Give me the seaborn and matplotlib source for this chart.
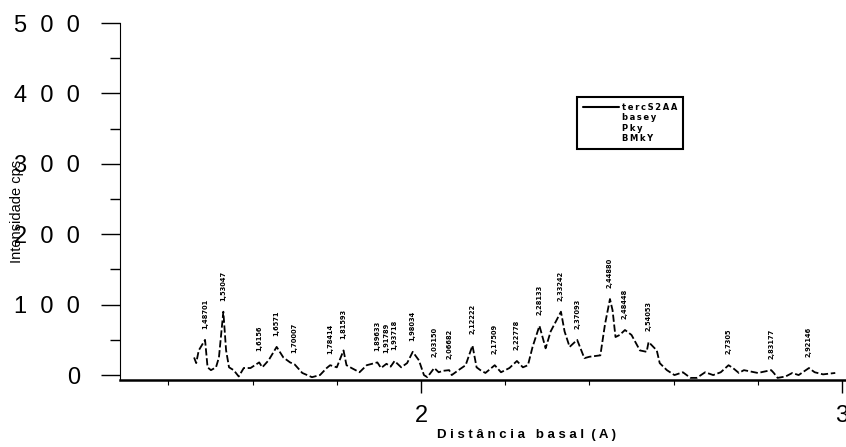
import numpy as np
import pandas as pd
import matplotlib
matplotlib.use("Agg")
import matplotlib.pyplot as plt
import seaborn as sns
from matplotlib.lines import Line2D
from matplotlib.ticker import FixedLocator

# Diffractogram trace between the labelled reflections (d in Å, intensity in cps)
trace_x = [1.461, 1.466, 1.472, 1.493, 1.501, 1.513, 1.520, 1.537, 1.544, 1.555,
           1.567, 1.579, 1.595, 1.623, 1.638, 1.673, 1.689, 1.718, 1.741, 1.760,
           1.776, 1.800, 1.823, 1.835, 1.854, 1.871, 1.905, 1.928, 1.953, 1.967,
           1.995, 2.007, 2.015, 2.042, 2.052, 2.073, 2.089, 2.106, 2.132, 2.141,
           2.153, 2.190, 2.210, 2.242, 2.254, 2.265, 2.296, 2.308, 2.341, 2.353,
           2.388, 2.400, 2.426, 2.437, 2.455, 2.462, 2.472, 2.500, 2.520, 2.536,
           2.560, 2.567, 2.584, 2.602, 2.622, 2.640, 2.655, 2.675, 2.694, 2.712,
           2.741, 2.755, 2.767, 2.800, 2.838, 2.847, 2.866, 2.882, 2.897, 2.935,
           2.955, 2.984]
trace_y = [25, 17, 35, 11, 7, 11, 25, 35, 11, 7,
           -2, 10, 10, 11, 21, 25, 18, 3, -3, 0,
           10, 11, 14, 10, 4, 14, 10, 12, 11, 17,
           21, 0, -3, 4, 6, 0, 7, 14, 11, 7,
           3, 4, 10, 11, 14, 40, 38, 62, 62, 40,
           24, 26, 28, 72, 92, 54, 57, 57, 35, 33,
           35, 17, 7, 0, 4, -4, -4, 4, 0, 4,
           10, 3, 7, 3, 3, -4, -2, 3, 0, 4,
           1, 3]

# Labelled reflections
peak_pos = [1.48701, 1.53047, 1.6156, 1.6571, 1.70007, 1.78414, 1.81593, 1.89633,
            1.91789, 1.93718, 1.98034, 2.03150, 2.06682, 2.12222, 2.17509, 2.22778,
            2.28133, 2.33242, 2.37093, 2.44880, 2.48448, 2.54053, 2.7305, 2.83177,
            2.92146]
peak_int = [50, 90, 18, 40, 15, 14, 35, 18, 16, 20, 33, 10, 7, 42, 14, 20,
            70, 90, 50, 108, 64, 47, 14, 7, 10]
peak_labels = ["1,48701", "1,53047", "1,6156", "1,6571", "1,70007", "1,78414",
               "1,81593", "1,89633", "1,91789", "1,93718", "1,98034", "2,03150",
               "2,06682", "2,12222", "2,17509", "2,22778", "2,28133", "2,33242",
               "2,37093", "2,44880", "2,48448", "2,54053", "2,7305", "2,83177",
               "2,92146"]

y_ticks = [0, 100, 200, 300, 400, 500]
y_tick_labels = ["0", "1  0  0", "2  0  0", "3  0  0", "4  0  0", "5  0  0"]
x_ticks = [2, 3]
x_tick_labels = ["2", "3"]
legend_labels = ["tercS2AA", "basey", "Pky", "BMkY"]

sns.set_style("white")
plt.rcParams["font.family"] = ["Liberation Sans", "DejaVu Sans"]
plt.rcParams["text.color"] = "black"
plt.rcParams["axes.labelcolor"] = "black"
plt.rcParams["xtick.color"] = "black"
plt.rcParams["ytick.color"] = "black"

fig = plt.figure(figsize=(8.46, 4.47), dpi=100)
ax = fig.add_axes([120 / 846, 67 / 447, 726 / 846, 357 / 447])

df = pd.DataFrame({
    "d": np.concatenate([trace_x, peak_pos]),
    "I": np.concatenate([trace_y, peak_int]),
}).sort_values("d")

sns.lineplot(data=df, x="d", y="I", ax=ax, color="black", linewidth=1.3,
             linestyle=(0, (4, 1.5)), sort=True, estimator=None)

for p, h, lab in zip(peak_pos, peak_int, peak_labels):
    ax.annotate(lab, xy=(p, h), xytext=(0, 8), textcoords="offset points",
                rotation=90, ha="center", va="bottom", fontsize=4.8,
                fontweight="bold", family="DejaVu Sans")

ax.set_xlim(1.285, 3.0095)
ax.set_ylim(-7, 500)

ax.set_yticks(y_ticks)
ax.set_yticklabels(y_tick_labels)
ax.yaxis.set_minor_locator(FixedLocator([50, 150, 250, 350, 450]))
ax.set_xticks(x_ticks)
ax.set_xticklabels(x_tick_labels)
ax.xaxis.set_minor_locator(FixedLocator([1.4, 1.6, 1.8, 2.2, 2.4, 2.6, 2.8]))

ax.tick_params(axis="y", which="major", direction="out", length=13.7, width=1.0,
               pad=15, labelsize=17, left=True)
ax.tick_params(axis="y", which="minor", direction="out", length=7, width=1.0,
               left=True)
ax.tick_params(axis="x", which="major", direction="out", length=9, width=1.0,
               pad=9, labelsize=17, bottom=True)
ax.tick_params(axis="x", which="minor", direction="out", length=3.5, width=0.8,
               bottom=True)

for side in ("top", "right"):
    ax.spines[side].set_visible(False)
ax.spines["left"].set_linewidth(0.8)
ax.spines["left"].set_color("black")
ax.spines["bottom"].set_linewidth(1.8)
ax.spines["bottom"].set_color("black")

ax.set_xlabel("D i s t â n c i a   b a s a l  ( A )", fontsize=9.5,
              fontweight="bold", ha="center", va="center")
ax.xaxis.set_label_coords(0.56, -0.154)
ax.set_ylabel("")
fig.text(17 / 846, 1 - 211 / 447, "Intensidade cps", rotation=90,
         ha="center", va="center", fontsize=10.5)

# Legend entries are letter-spaced with thin spaces
spaced = ["\u2009".join(lab) for lab in legend_labels]
handles = [Line2D([], [], color="black", linewidth=1.5)] + \
          [Line2D([], [], color="none") for _ in legend_labels[1:]]
leg = ax.legend(handles, spaced, loc="upper left",
                bbox_to_anchor=(577 / 846, 1 - 97 / 447),
                bbox_transform=fig.transFigure,
                prop={"weight": "bold", "size": 6, "family": "DejaVu Sans"},
                handlelength=4.3, handletextpad=0.3, labelspacing=0.15,
                borderpad=0.75, borderaxespad=0, fancybox=False, framealpha=1)
leg.get_frame().set_edgecolor("black")
leg.get_frame().set_linewidth(1.5)

fig.savefig("out.png", dpi=100)
